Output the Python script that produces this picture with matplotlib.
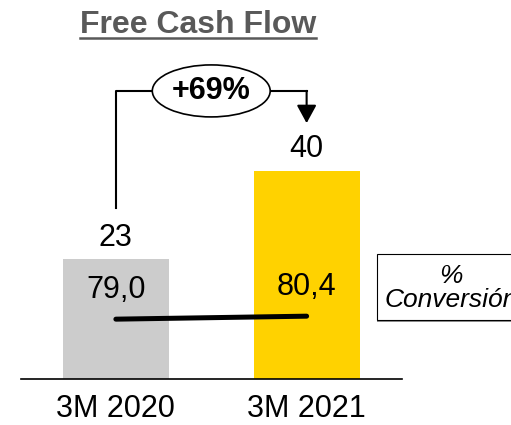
"""Free Cash Flow: 3M 2020 vs 3M 2021 bars with cash conversion line."""

import matplotlib
matplotlib.use("Agg")
import matplotlib.pyplot as plt
from matplotlib.lines import Line2D
from matplotlib.patches import Ellipse, FancyArrowPatch, Rectangle

plt.rcParams["font.family"] = ["Liberation Sans", "DejaVu Sans"]

periods = ["3M 2020", "3M 2021"]
fcf = [23, 40]
conversion = [79.0, 80.4]
conversion_labels = ["79,0", "80,4"]
growth_label = "+69%"
title = "Free Cash Flow"
box_lines = ["%", "Conversión"]

bar_colors = ["#CCCCCC", "#FFD200"]
title_color = "#595959"

W, H = 511, 425
fig = plt.figure(figsize=(W / 100, H / 100), dpi=100)

# axes placed in pixels: x from 20.5 to 402, baseline at y=379 (from top)
ax = fig.add_axes([20.5 / W, 46 / H, 381.5 / W, 312 / H])
xs = list(range(len(periods)))
ax.bar(xs, fcf, width=0.555, color=bar_colors, zorder=1)
ax.set_xlim(-0.5, 1.5)
ax.set_ylim(0, 60)
for s in ("top", "right", "left"):
    ax.spines[s].set_visible(False)
ax.spines["bottom"].set_linewidth(1.2)
ax.set_yticks([])
ax.set_xticks(xs)
ax.set_xticklabels(periods, fontsize=22)
ax.tick_params(axis="x", length=0, pad=11)

for x, v in zip(xs, fcf):
    ax.text(x, v + 4.2, str(v), ha="center", va="center", fontsize=22)

# conversion line on its own scale
ax2 = ax.twinx()
ax2.set_ylim(51, 197)
ax2.axis("off")
ax2.plot(xs, conversion, color="black", lw=3.6, solid_capstyle="round", zorder=3)
for x, v, lab in zip(xs, conversion, conversion_labels):
    ax2.text(x, v + 13.5, lab, ha="center", va="center", fontsize=22)

# growth bracket
bracket_y = 55.4
ax.plot([0, 0, 1], [fcf[0] + 9.9, bracket_y, bracket_y], color="black",
        lw=1.5, clip_on=False, zorder=4)
ax.add_patch(FancyArrowPatch((1, bracket_y), (1, fcf[1] + 9.2),
                             arrowstyle="-|>,head_length=0.55,head_width=0.3",
                             mutation_scale=20, color="black", lw=1.5,
                             shrinkA=0, shrinkB=0, clip_on=False, zorder=4))
ax.add_patch(Ellipse((0.5, bracket_y), 0.618, 10.0, facecolor="white",
                     edgecolor="black", lw=1.2, clip_on=False, zorder=5))
ax.text(0.5, bracket_y, growth_label, ha="center", va="center", fontsize=22,
        fontweight="bold", zorder=6)

# title with underline
t = fig.text(198 / W, 1 - 33 / H, title, ha="center", va="baseline",
             fontsize=23, fontweight="bold", color=title_color)
fig.canvas.draw()
bb = t.get_window_extent()
fig.add_artist(Line2D([bb.x0 / W, bb.x1 / W], [1 - 38 / H, 1 - 38 / H],
                      transform=fig.transFigure, color=title_color, lw=1.8))

# conversion legend box (runs off the right edge, as in the source slide)
fig.add_artist(Rectangle((377 / W, (H - 322) / H), 150 / W, 66 / H,
                         transform=fig.transFigure, facecolor="#909090",
                         edgecolor="none", zorder=1))
fig.add_artist(Rectangle((377 / W, (H - 320) / H), 150 / W, 66 / H,
                         transform=fig.transFigure, facecolor="white",
                         edgecolor="black", lw=0.8, zorder=2))
for line, base in zip(box_lines, [283, 307]):
    fig.text(451 / W, 1 - base / H, line, ha="center", va="baseline",
             fontsize=19, style="italic", zorder=3)

fig.savefig("out.png", dpi=100)
